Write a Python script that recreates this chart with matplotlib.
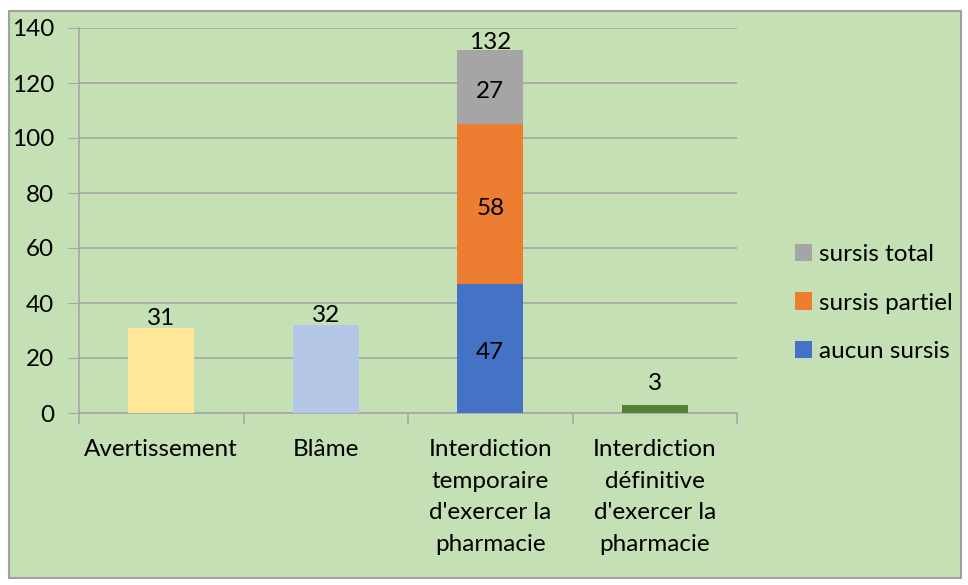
import numpy as np
import matplotlib.pyplot as plt
from matplotlib.patches import Rectangle, Patch

plt.rcParams['font.family'] = ['Lato', 'DejaVu Sans']

categories = ["Avertissement", "Blâme",
              "Interdiction\ntemporaire\nd'exercer la\npharmacie",
              "Interdiction\ndéfinitive\nd'exercer la\npharmacie"]
simpleValues = [31, 32, None, 3]
simpleColors = ['#FFE699', '#B4C7E7', None, '#548235']

stackNames = ['aucun sursis', 'sursis partiel', 'sursis total']
stackValues = [47, 58, 27]
stackColors = ['#4472C4', '#ED7D31', '#A5A5A5']

bg = '#C5E0B4'
gridColor = '#A6A6A6'
fs = 17.5
labelLift = [0, 0, 0, 9]   # extra points above the bar for each label

fig = plt.figure(figsize=(9.68, 5.85), dpi=100)
fig.patch.set_facecolor('white')
fig.patches.append(Rectangle((9/968, 7/585), 952/968, 567/585, transform=fig.transFigure,
                             facecolor=bg, edgecolor='#A0A0A0', linewidth=1.5, zorder=-10))

ax = fig.add_axes([79/968, 1 - 413/585, 658/968, 385/585])
ax.set_zorder(1)
ax.patch.set_alpha(0)

x = np.arange(len(categories))
w = 0.40

# simple bars
for i, v in enumerate(simpleValues):
    if v is None:
        continue
    ax.bar(x[i], v, w, color=simpleColors[i], zorder=3)
    ax.annotate(str(v), (x[i], v), xytext=(0, -1 + labelLift[i]), textcoords='offset points',
                ha='center', va='bottom', fontsize=fs, zorder=4)

# stacked bar
bottom = 0
handles = []
for name, v, c in zip(stackNames, stackValues, stackColors):
    ax.bar(x[2], v, w, bottom=bottom, color=c, zorder=3)
    ax.annotate(str(v), (x[2], bottom + v / 2), xytext=(0, -3), textcoords='offset points',
                ha='center', va='center', fontsize=fs, zorder=4)
    bottom += v
    handles.append(Patch(facecolor=c, label=name))
ax.annotate(str(bottom), (x[2], bottom), xytext=(0, -2), textcoords='offset points',
            ha='center', va='bottom', fontsize=fs, zorder=4)

ax.set_xlim(-0.5, len(categories) - 0.5)
ax.set_ylim(0, 140)
ax.set_yticks(range(0, 141, 20))
ax.yaxis.grid(True, color=gridColor, linewidth=1.2, zorder=1)
ax.tick_params(axis='y', length=8, color=gridColor, labelsize=fs, pad=10)

ax.set_xticks(np.arange(-0.5, len(categories), 1.0))
ax.set_xticklabels([])
ax.set_xticks(x, minor=True)
ax.set_xticklabels(categories, minor=True, fontsize=fs, linespacing=1.62)
ax.tick_params(axis='x', which='major', length=8, color=gridColor, width=1.2)
ax.tick_params(axis='x', which='minor', length=0, pad=19)

for s in ['top', 'right']:
    ax.spines[s].set_visible(False)
ax.spines['left'].set_color(gridColor)
ax.spines['left'].set_linewidth(1.2)
ax.spines['bottom'].set_color(gridColor)
ax.spines['bottom'].set_linewidth(1.2)

leg = fig.legend(handles=handles[::-1], loc='center left', bbox_to_anchor=(785/968, 1 - 303/585),
                 frameon=False, fontsize=fs, handlelength=0.7, handleheight=0.7,
                 handletextpad=0.3, labelspacing=1.15, borderaxespad=0)

fig.savefig('out.png', dpi=100)
